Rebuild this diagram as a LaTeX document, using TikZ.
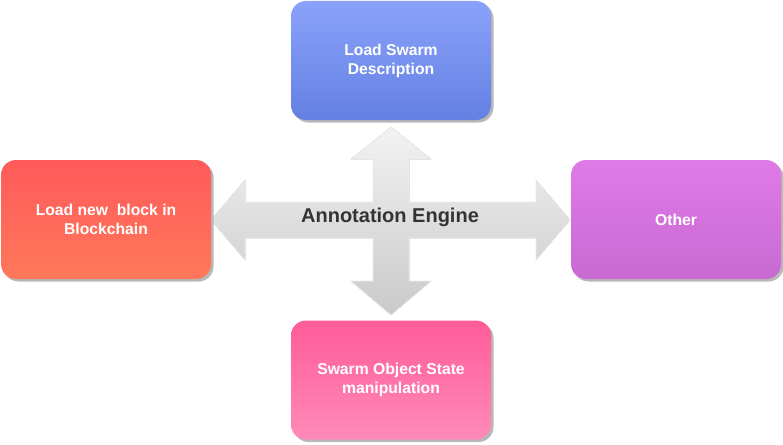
\documentclass[tikz,border=0pt]{standalone}
\usepackage{fontspec}
\setmainfont{Liberation Sans}
\usepackage{tikz}
\usetikzlibrary{shadows}
\definecolor{descTop}{HTML}{8AA2FA}
\definecolor{descBot}{HTML}{6480E2}
\definecolor{blockTop}{HTML}{FF5A5A}
\definecolor{blockBot}{HTML}{FF785A}
\definecolor{otherTop}{HTML}{E07AE8}
\definecolor{otherBot}{HTML}{C86AD2}
\definecolor{stateTop}{HTML}{FF5C98}
\definecolor{stateBot}{HTML}{FF8AB8}
\definecolor{engText}{HTML}{333333}

\begin{document}
\begin{tikzpicture}[x=1pt, y=-1pt]
\tikzset{box/.style={rounded corners=15pt, minimum height=119pt, align=center, text=white,
    font=\bfseries\fontsize{15.7}{19}\selectfont,
    drop shadow={shadow xshift=2.5pt, shadow yshift=-2.5pt, fill=black!28, opacity=1}}}
\tikzset{crossarrow/.style={top color=black!5, bottom color=black!21, draw=white!92!black, line width=0.6pt}}
    \useasboundingbox (0,0) rectangle (783,444);

    % the cross of arrows
    \coordinate (Tt) at (391,127);
    \coordinate (Tb) at (391,315);
    \coordinate (Tl) at (211,220);
    \coordinate (Tr) at (570,220);

    \fill[crossarrow] (Tt) -- (431,159) -- (409,159) -- (409,202) -- (536,202) -- (536,180)
        -- (Tr) -- (536,260) -- (536,238) -- (409,238) -- (409,281) -- (431,281)
        -- (Tb) -- (351,281) -- (373,281) -- (373,238) -- (245,238) -- (245,260)
        -- (Tl) -- (245,180) -- (245,202) -- (373,202) -- (373,159) -- (351,159) -- cycle;

    \node[text=engText, font=\bfseries\fontsize{20}{24}\selectfont] (Eng) at (390,217) {Annotation Engine};

    % boxes round the cross
    \node[box, minimum width=200pt, top color=descTop, bottom color=descBot] (Desc) at (391,60.5) {Load Swarm\\Description};
    \node[box, minimum width=210pt, top color=blockTop, bottom color=blockBot] (Block) at (106,219.5) {Load new\ \ block in\\Blockchain};
    \node[box, minimum width=210pt, top color=otherTop, bottom color=otherBot] (Other) at (676,219.5) {Other};
    \node[box, minimum width=200pt, top color=stateTop, bottom color=stateBot] (State) at (391,380) {Swarm Object State\\manipulation};

\end{tikzpicture}
\end{document}
